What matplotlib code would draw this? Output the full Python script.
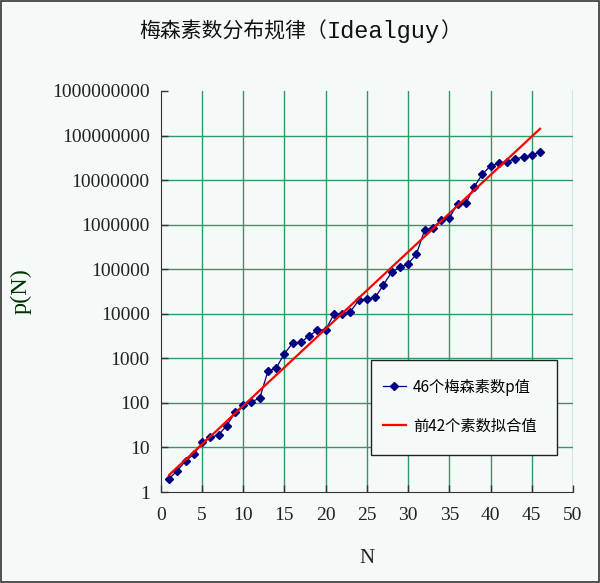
import matplotlib
matplotlib.use('Agg')
import matplotlib.pyplot as plt
from matplotlib.patches import Rectangle
from matplotlib.ticker import FixedLocator, FixedFormatter

# Mersenne prime exponents p, ordered by N
n = list(range(1, 47))
p = [2, 3, 5, 7, 13, 17, 19, 31, 61, 89, 107, 127, 521, 607, 1279, 2203,
     2281, 3217, 4253, 4423, 9689, 9941, 11213, 19937, 21701, 23209, 44497,
     86243, 110503, 132049, 216091, 756839, 859433, 1257787, 1398269,
     2976221, 3021377, 6972593, 13466917, 20996011, 24036583, 25964951,
     30402457, 32582657, 37156667, 42643801]

# fitted values
fit = [2.4, 3.6, 5.3, 7.9, 11.8, 17.5, 26, 39, 58, 86, 128, 191, 284, 422,
       628, 935, 1390, 2070, 3083, 4584, 6823, 10160, 15110, 22490, 33500,
       49890, 74130, 110400, 164400, 244300, 363900, 542000, 805400,
       1199000, 1786000, 2661000, 3954000, 5888000, 8770000, 13030000,
       19410000, 28910000, 42950000, 63970000, 95280000, 141600000]

yticks = [10 ** k for k in range(10)]
ylabels = [str(v) for v in yticks]
xticks = list(range(0, 51, 5))

bg = '#f5faf9'
grid_c = '#2e9960'
cjk = ['Noto Sans CJK SC', 'DejaVu Sans']
serif = 'Liberation Serif'

fig = plt.figure(figsize=(6, 5.83), dpi=100, facecolor=bg)
ax = fig.add_axes([0.268, 0.156, 0.687, 0.688])
ax.set_facecolor(bg)
ax.set_yscale('log')
ax.set_xlim(0, 50)
ax.set_ylim(1, 1e9)

# grid (no line at the top)
for v in yticks[1:-1]:
    ax.axhline(v, color=grid_c, lw=1, zorder=0)
for v in xticks[1:]:
    ax.axvline(v, color=grid_c, lw=1, zorder=0)

ax.plot(n, p, color='#000080', lw=0.9, marker='D', ms=4.3, label='46个梅森素数p值', zorder=3)
ax.plot(n, fit, color='red', lw=1.6, label='前42个素数拟合值', zorder=4)

ax.yaxis.set_major_locator(FixedLocator(yticks))
ax.yaxis.set_major_formatter(FixedFormatter(ylabels))
ax.yaxis.set_minor_locator(FixedLocator([]))
ax.set_xticks(xticks)
ax.tick_params(direction='in', length=5, width=1, colors='#333333', labelsize=14)
ax.tick_params(axis='x', pad=11)
ax.tick_params(axis='y', pad=8)
for lab in ax.get_xticklabels() + ax.get_yticklabels():
    lab.set_family(serif)
    lab.set_color('#222222')

for s in ['top', 'right']:
    ax.spines[s].set_visible(False)
for s in ['left', 'bottom']:
    ax.spines[s].set_color('#333333')

ax.set_xlabel('N', fontsize=15, family=serif, labelpad=18, color='#222222')
ax.set_ylabel('p(N)', fontsize=17.5, family=serif, labelpad=15, color='#003300')

# title in pieces: CJK part, monospaced latin part, closing paren
r = fig.canvas.get_renderer()
parts = [('梅森素数分布规律（', cjk, 15), ('Idealguy', 'Liberation Mono', 17), ('）', cjk, 15)]
texts = [fig.text(0, 0.946, s, ha='left', va='center', fontsize=fs, family=f, color='#111111')
         for s, f, fs in parts]
widths = [t.get_window_extent(r).width / fig.bbox.width for t in texts]
x = 0.5 - sum(widths) / 2
for t, w in zip(texts, widths):
    t.set_x(x)
    x += w

# legend box drawn by hand, entries without frame
ax.add_patch(Rectangle((0.510, 0.092), 0.451, 0.237, transform=ax.transAxes,
                       facecolor=bg, edgecolor='#222222', lw=1, zorder=5))
leg = ax.legend(loc='upper left', bbox_to_anchor=(0.539, 0.283), frameon=False,
                prop={'family': cjk, 'size': 11}, borderpad=0, borderaxespad=0,
                handlelength=1.5, handletextpad=0.45, labelspacing=1.45)
leg.set_zorder(6)

fig.patches.append(Rectangle((0.002, 0.002), 0.996, 0.996, transform=fig.transFigure,
                             fill=False, edgecolor='#333333', lw=1.2))

fig.savefig('out.png', dpi=100, facecolor=bg)
